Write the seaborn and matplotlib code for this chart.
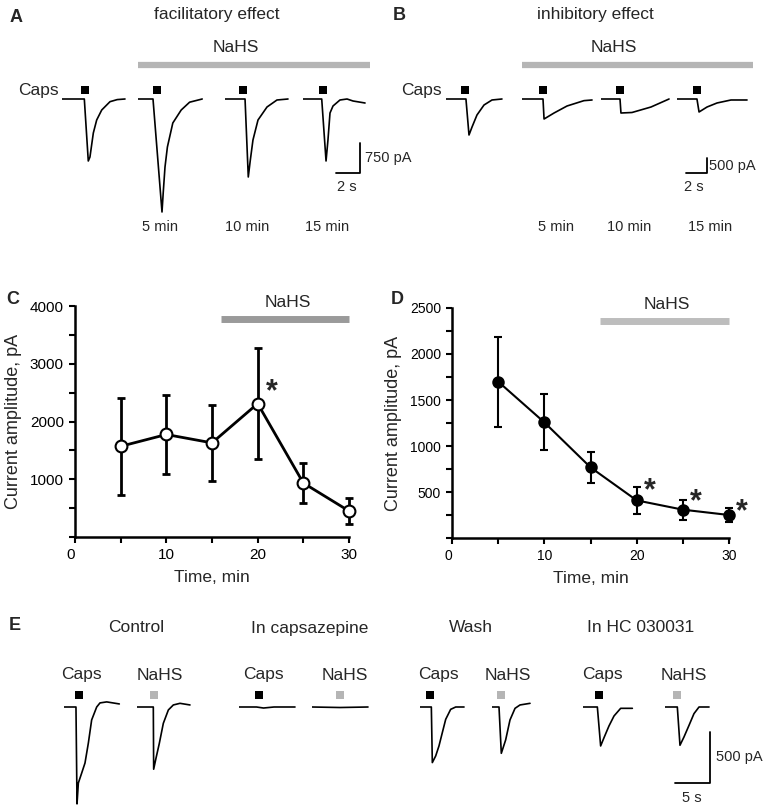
import matplotlib
matplotlib.use('Agg')
import matplotlib.pyplot as plt
import seaborn as sns

sns.set_style('ticks')
plt.rcParams['font.family'] = ['Liberation Sans', 'DejaVu Sans']

W, H = 768, 810

# ---------------- data ----------------
# panel A traces (time s, current pA)
a_ctrl_t = [0, 1.86, 2.19, 2.33, 2.61, 2.89, 3.31, 4.0, 4.6, 5.25]
a_ctrl_i = [0, 0, -1550, -1450, -850, -525, -275, -67, -15, 0]
a_5_t = [0, 1.25, 2.0, 2.1, 2.25, 2.45, 2.9, 3.6, 4.3, 5.35]
a_5_i = [0, 0, -2825, -2350, -1700, -1200, -600, -275, -80, 0]
a_10_t = [0, 1.67, 1.94, 2.1, 2.33, 2.75, 3.5, 4.33, 5.25]
a_10_i = [0, 0, -1950, -1550, -1025, -525, -200, -25, 0]
a_15_t = [0, 1.56, 1.92, 2.08, 2.25, 2.5, 3.08, 3.67, 4.17, 5.17]
a_15_i = [0, 0, -1550, -1025, -350, -175, -25, 0, -50, -100]
a_stim = [1.875, 1.58, 1.5, 1.67]
a_times = ['', '5 min', '10 min', '15 min']

# panel B traces
b_ctrl_t = [0, 1.9, 2.19, 2.48, 2.95, 3.62, 4.38, 5.33]
b_ctrl_i = [0, 0, -1200, -933, -533, -200, -33, 0]
b_5_t = [0, 2.0, 2.1, 3.05, 4.29, 5.9, 6.67]
b_5_i = [0, 0, -667, -467, -233, -55, -33]
b_10_t = [0, 1.81, 1.9, 2.95, 4.76, 6.48]
b_10_i = [0, 0, -467, -450, -267, 0]
b_15_t = [0, 1.9, 2.1, 2.86, 3.81, 5.14, 6.67]
b_15_i = [0, 0, -433, -267, -133, -33, -33]
b_stim = [1.81, 2.0, 1.81, 1.9]

# panel C / D summary
time_min = [5, 10, 15, 20, 25, 30]
c_mean = [1570, 1775, 1630, 2310, 935, 450]
c_sem = [845, 680, 660, 960, 345, 230]
c_signif = [3]
d_mean = [1700, 1257, 768, 409, 308, 250]
d_sem = [490, 305, 168, 143, 109, 80]
d_signif = [3, 4, 5]
nahs_on, nahs_off = 16, 30

# panel E traces
e_conditions = ['Control', 'In capsazepine', 'Wash', 'In HC 030031']
e_ctrl_caps_t = [0, 1.71, 1.86, 2.05, 2.53, 3.0, 3.48, 3.95, 4.67, 5.14, 6.1, 7.9]
e_ctrl_caps_i = [0, 0, -950, -745, -647, -549, -353, -127, 0, 40, 50, 30]
e_ctrl_nahs_t = [0, 2.33, 2.38, 2.71, 3.19, 3.76, 4.48, 5.19, 6.14, 7.57]
e_ctrl_nahs_i = [0, 0, -610, -503, -356, -160, -29, 20, 36, 20]
e_cpz_caps_t = [0, 2.5, 3.5, 5.0, 8.0]
e_cpz_caps_i = [0, 0, -10, 0, 0]
e_cpz_nahs_t = [0, 4.0, 8.0]
e_cpz_nahs_i = [0, -5, 0]
e_wash_caps_t = [0, 1.62, 1.76, 2.24, 2.71, 3.19, 3.67, 4.38, 5.1, 6.29]
e_wash_caps_i = [0, 0, -545, -480, -382, -251, -121, -23, 0, 0]
e_wash_nahs_t = [0, 1.0, 1.33, 1.95, 2.57, 3.29, 4.0, 5.43]
e_wash_nahs_i = [0, 0, -454, -323, -127, -13, 20, 36]
e_hc_caps_t = [0, 2.05, 2.52, 3.0, 3.71, 4.43, 5.38, 7.05]
e_hc_caps_i = [0, 0, -382, -301, -186, -88, -13, -13]
e_hc_nahs_t = [0, 1.76, 2.14, 2.71, 3.43, 4.14, 4.86, 6.29]
e_hc_nahs_i = [0, 0, -375, -294, -180, -65, 0, 0]
e_stim = [2.14, 2.43, 2.86, 4.0, 1.43, 1.29, 2.29, 1.71]
e_agent = ['Caps', 'NaHS'] * 4

# ---------------- layout ----------------
GRAY_BAR = '#b5b5b5'
fig = plt.figure(figsize=(W / 100, H / 100), dpi=100)
page = fig.add_axes([0, 0, 1, 1])
page.set_xlim(0, W)
page.set_ylim(H, 0)
page.axis('off')


def trace_axes(x0, base, width, px_s, pa_px, up=16, down=125):
    ax = fig.add_axes([x0 / W, 1 - (base + down) / H, width / W, (up + down) / H])
    ax.set_xlim(0, width / px_s)
    ax.set_ylim(-down * pa_px, up * pa_px)
    ax.axis('off')
    return ax


def draw_trace(x0, base, t, i, stim, px_s, pa_px, stim_up, stim_color='k'):
    ax = trace_axes(x0, base, t[-1] * px_s + 2, px_s, pa_px)
    sns.lineplot(x=t, y=i, ax=ax, color='k', lw=1.2, estimator=None, sort=False)
    ax.plot([stim], [stim_up * pa_px], 's', color=stim_color, ms=6, mew=0, clip_on=False)
    return ax


def scale_bar(xc, yc, dx, dy, px_s, pa_px):
    ax = trace_axes(xc - dx * px_s, yc, dx * px_s, px_s, pa_px, up=dy / pa_px + 2, down=5)
    ax.plot([0, dx, dx], [0, 0, dy], color='k', lw=1.3, clip_on=False)


# ---- A ----
px_s, pa_px = 12, 25
for x0, t, i, s in zip([62, 138, 225, 303],
                       [a_ctrl_t, a_5_t, a_10_t, a_15_t],
                       [a_ctrl_i, a_5_i, a_10_i, a_15_i], a_stim):
    draw_trace(x0, 99, t, i, s, px_s, pa_px, 9)
scale_bar(360, 173, 2, 750, px_s, pa_px)
page.text(365, 158, '750 pA', fontsize=10.5, va='center', ha='left')
page.text(347, 187, '2 s', fontsize=10.5, va='center', ha='center')
for x, lab in zip([160, 247, 327], a_times[1:]):
    page.text(x, 227, lab, fontsize=10.5, ha='center', va='center')
page.text(16, 17, 'A', fontsize=13, fontweight='bold', ha='center', va='center')
page.text(217, 15, 'facilitatory effect', fontsize=12.5, ha='center', va='center')
page.text(236, 47, 'NaHS', fontsize=12.5, ha='center', va='center')
page.plot([138, 370], [65, 65], color=GRAY_BAR, lw=4.5, solid_capstyle='butt')
page.text(59, 90, 'Caps', fontsize=12.5, ha='right', va='center')

# ---- B ----
px_s, pa_px = 10.5, 500 / 15
for x0, t, i, s in zip([446, 522, 601, 677],
                       [b_ctrl_t, b_5_t, b_10_t, b_15_t],
                       [b_ctrl_i, b_5_i, b_10_i, b_15_i], b_stim):
    draw_trace(x0, 99, t, i, s, px_s, pa_px, 9)
scale_bar(707, 173, 2, 500, px_s, pa_px)
page.text(709, 166, '500 pA', fontsize=10.5, va='center', ha='left')
page.text(694, 187, '2 s', fontsize=10.5, va='center', ha='center')
for x, lab in zip([556, 629, 710], a_times[1:]):
    page.text(x, 227, lab, fontsize=10.5, ha='center', va='center')
page.text(399, 16, 'B', fontsize=13, fontweight='bold', ha='center', va='center')
page.text(595, 15, 'inhibitory effect', fontsize=12.5, ha='center', va='center')
page.text(614, 47, 'NaHS', fontsize=12.5, ha='center', va='center')
page.plot([522, 753], [65, 65], color=GRAY_BAR, lw=4.5, solid_capstyle='butt')
page.text(442, 90, 'Caps', fontsize=12.5, ha='right', va='center')


# ---- C / D ----
def summary(box, mean, sem, signif, ymax, major, minor, face, bar_color, lw,
            ms, label_size, star_dx, star_dy):
    x0, y0, x1, y1 = box
    ax = fig.add_axes([x0 / W, 1 - y1 / H, (x1 - x0) / W, (y1 - y0) / H])
    eb = ax.errorbar(time_min, mean, yerr=sem, fmt='none', ecolor='k',
                     elinewidth=lw, capsize=3, capthick=lw, zorder=2)
    for art in eb.lines[1] + eb.lines[2]:
        art.set_clip_on(False)
    sns.lineplot(x=time_min, y=mean, ax=ax, color='k', lw=lw, marker='o', ms=ms,
                 markerfacecolor=face, markeredgecolor='k', markeredgewidth=1.5,
                 clip_on=False, zorder=3)
    ax.set_xlim(0, 30)
    ax.set_ylim(0, ymax)
    ax.set_xticks([0, 10, 20, 30])
    ax.set_xticks([5, 15, 25], minor=True)
    yt = list(range(0, ymax + 1, major))
    ax.set_yticks(yt)
    ax.set_yticklabels([''] + [str(v) for v in yt[1:]])
    ax.set_yticks(list(range(minor, ymax, minor)), minor=True)
    ax.tick_params(which='both', direction='out', length=4, width=1.5,
                   labelsize=label_size, pad=4, colors='k')
    for sp in ['top', 'right']:
        ax.spines[sp].set_visible(False)
    for sp in ['left', 'bottom']:
        ax.spines[sp].set_linewidth(1.8)
        ax.spines[sp].set_color('k')
    ax.get_xticklabels()[0].set_ha('right')
    ax.set_xlabel('Time, min', fontsize=12.5)
    ax.set_ylabel('Current amplitude, pA', fontsize=13)
    ax.plot([nahs_on, nahs_off], [ymax * 0.945, ymax * 0.945], color=bar_color, lw=5,
            solid_capstyle='butt', clip_on=False)
    ax.text(23.3, ymax * 1.015, 'NaHS', fontsize=12.5, ha='center', va='center')
    for k in signif:
        ax.text(time_min[k] + star_dx, mean[k] + star_dy[k], '*', fontsize=22,
                fontweight='bold', ha='center', va='center', clip_on=False)
    return ax


axc = summary((75, 306, 349, 537), c_mean, c_sem, c_signif, 4000, 1000, 500,
              'white', '#9a9a9a', 2, 8.5, 11, 1.5, {3: 200})
axc.yaxis.set_label_coords(-0.195, 0.5)
axc.xaxis.set_label_coords(0.5, -0.145)
axd = summary((452, 308, 729, 538), d_mean, d_sem, d_signif, 2500, 500, 250,
              'black', '#bdbdbd', 1.5, 7.5, 10, 1.4, {3: 95, 4: 85, 5: 35})
axd.yaxis.set_label_coords(-0.18, 0.5)
axd.xaxis.set_label_coords(0.5, -0.145)
page.text(13, 299, 'C', fontsize=13, fontweight='bold', ha='center', va='center')
page.text(397, 300, 'D', fontsize=13, fontweight='bold', ha='center', va='center')

# ---- E ----
px_s, pa_px = 7, 500 / 51
e_t = [e_ctrl_caps_t, e_ctrl_nahs_t, e_cpz_caps_t, e_cpz_nahs_t,
       e_wash_caps_t, e_wash_nahs_t, e_hc_caps_t, e_hc_nahs_t]
e_i = [e_ctrl_caps_i, e_ctrl_nahs_i, e_cpz_caps_i, e_cpz_nahs_i,
       e_wash_caps_i, e_wash_nahs_i, e_hc_caps_i, e_hc_nahs_i]
e_x0 = [64, 137, 239, 312, 420, 492, 583, 665]
e_lab_x = [81, 160, 263, 345, 438, 508, 602, 684]
for x0, t, i, s, ag, lx in zip(e_x0, e_t, e_i, e_stim, e_agent, e_lab_x):
    col = 'k' if ag == 'Caps' else GRAY_BAR
    draw_trace(x0, 707, t, i, s, px_s, pa_px, 12, col)
    page.text(lx, 675, ag, fontsize=12.5, ha='center', va='center')
for x, lab in zip([136, 310, 471, 641], e_conditions):
    page.text(x, 628, lab, fontsize=12.5, ha='center', va='center')
scale_bar(710, 783, 5, 500, px_s, pa_px)
page.text(716, 757, '500 pA', fontsize=10.5, va='center', ha='left')
page.text(692, 798, '5 s', fontsize=10.5, va='center', ha='center')
page.text(15, 625, 'E', fontsize=13, fontweight='bold', ha='center', va='center')

fig.savefig('out.png', dpi=100)
